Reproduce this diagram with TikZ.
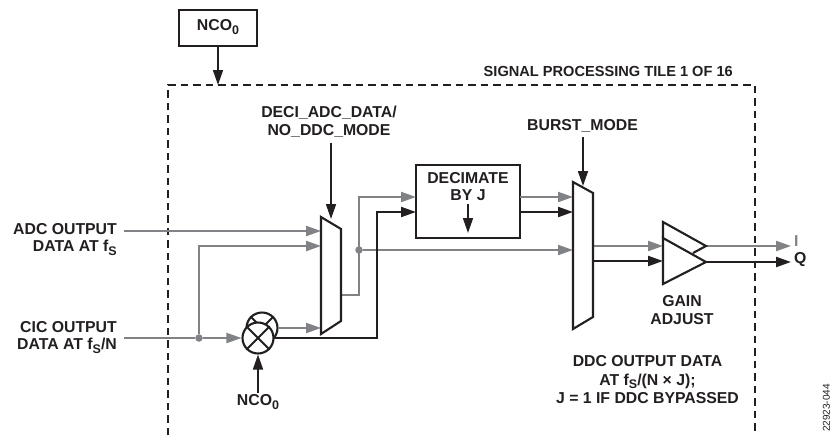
\documentclass[tikz,border=0pt]{standalone}
\usepackage{fontspec}
\setmainfont{Liberation Sans}
\usetikzlibrary{arrows.meta}
\definecolor{ink}{HTML}{231F20}
\definecolor{gry}{HTML}{808285}
\newcommand{\subt}[1]{\raisebox{-3.5pt}{\fontsize{12.5}{13}\selectfont #1}}
\tikzset{
  lbl/.style={font=\bfseries\fontsize{15.8}{17.5}\selectfont,text=ink,inner sep=0pt,align=center},
  lblr/.style={lbl,align=right},
  lbls/.style={lbl,font=\bfseries\fontsize{14.6}{18}\selectfont},
  lbld/.style={lbl,font=\bfseries\fontsize{15.8}{18.5}\selectfont},
  blk/.style={draw=ink,line width=2.1pt,line join=miter},
  blockbox/.style={draw=ink,line width=2.1pt,fill=white,inner sep=0pt},
  sigk/.style={draw=ink,line width=2.1pt,-{Triangle[length=15pt,width=10pt]}},
  sigg/.style={draw=gry,line width=2.1pt,-{Triangle[length=15pt,width=10pt]}},
  siggn/.style={draw=gry,line width=2.1pt},
  ctl/.style={draw=ink,line width=1.7pt,-{Triangle[length=15pt,width=10pt]}},
  bound/.style={draw=ink,line width=1.5pt,dash pattern=on 7.5pt off 5pt},
  junc/.style={circle,fill=gry,minimum size=7.5pt,inner sep=0pt},
  ring/.style={circle,draw=ink,line width=2.1pt,fill=white,inner sep=0pt}
}
\begin{document}
\begin{tikzpicture}[x=1pt,y=-1pt]
\useasboundingbox (0,0) rectangle (833,437);
\fill[white] (0,0) rectangle (833,437);

% boundary
\coordinate (bl) at (168,435);
\coordinate (tl) at (168,85);
\coordinate (tr) at (755,85);
\coordinate (br) at (755,435);
\draw[bound] (bl) -- (tl) -- (tr) -- (br);

% top NCO
\node[blockbox,minimum width=78pt,minimum height=36pt] (nco) at (218,28) {};
\node[lbl] (ncot) at (218,27) {NCO\subt{0}};
\coordinate (ncoin) at (218,85);
\draw[ctl] (nco.south) -- (ncoin);

% labels
\node[lbls,anchor=east] (title) at (733,71.5) {SIGNAL PROCESSING TILE 1 OF 16};
\node[lbl] (decilbl) at (329,121.5) {DECI\_ADC\_DATA/\\NO\_DDC\_MODE};
\node[lbl] (burstlbl) at (582.5,126) {BURST\_MODE};
\node[lblr,anchor=east] (adc) at (117,239.5) {ADC OUTPUT\\DATA AT f\subt{S}};
\node[lblr,anchor=east] (cic) at (117,337.5) {CIC OUTPUT\\DATA AT f\subt{S}/N};
\node[lbl] (ncob) at (258,402) {NCO\subt{0}};
\node[lbl] (gain) at (682,310) {GAIN\\ADJUST};
\node[lbld] (ddc) at (647.5,380) {DDC OUTPUT DATA\\AT f\subt{S}/(N × J);\\J = 1 IF DDC BYPASSED};
\node[text=ink,rotate=90,inner sep=0pt,font=\fontsize{10}{11}\selectfont] (code) at (826.5,408) {22923-044};

% mux 1 ports
\coordinate (m1a) at (321,217);
\coordinate (m1b) at (341,229);
\coordinate (m1c) at (341,321);
\coordinate (m1d) at (321,334);
\coordinate (m1i1) at (321,231);
\coordinate (m1i2) at (321,246);
\coordinate (m1i3) at (321,328);
\coordinate (m1o) at (341,295);
\coordinate (m1s) at (331,219);

% mux 2 ports
\coordinate (m2a) at (573,182);
\coordinate (m2b) at (593,193);
\coordinate (m2c) at (593,317);
\coordinate (m2d) at (573,329);
\coordinate (m2i1) at (573,197);
\coordinate (m2i2) at (573,212);
\coordinate (m2i3) at (573,250);
\coordinate (m2o1) at (593,246);
\coordinate (m2o2) at (593,261);
\coordinate (m2s) at (583,186);

% amplifier ports
\coordinate (a1) at (663,222);
\coordinate (a2) at (706,246);
\coordinate (a3) at (693,253);
\coordinate (a4) at (663,238);
\coordinate (a5) at (706,262);
\coordinate (a6) at (663,284);
\coordinate (ai1) at (663,246);
\coordinate (ai2) at (663,261);
\coordinate (iout) at (791,246);
\coordinate (qout) at (791,262);

% output labels
\node[lbl,anchor=west] (ilbl) at (794,241) {\textcolor{gry}{I}};
\node[lbl,anchor=west] (qlbl) at (794,259.5) {Q};

% decimate
\node[blockbox,minimum width=104pt,minimum height=73pt] (dec) at (468,201.5) {};
\node[lbl] (dect) at (468,186.5) {DECIMATE\\BY J};
\coordinate (dec1) at (416,197);
\coordinate (dec2) at (416,212);
\coordinate (deco1) at (520,197);
\coordinate (deco2) at (520,212);
\coordinate (decs) at (468,204);
\coordinate (dece) at (468,233);
\draw[ctl] (decs) -- (dece);

% mixers
\node[ring,minimum size=31pt] (mixb) at (262,328) {};
\draw[blk] (mixb.45) -- (mixb.225) (mixb.135) -- (mixb.315);
\node[ring,minimum size=31pt] (mixf) at (258,338) {};
\draw[blk] (mixf.45) -- (mixf.225) (mixf.135) -- (mixf.315);

% junctions
\coordinate (ct) at (124,231);
\coordinate (cc) at (124,338);
\coordinate (kbend) at (377,212);
\node[junc] (j1) at (199,338) {};
\node[junc] (j2) at (359,250) {};

% grey signals
\draw[sigg] (ct) -- (m1i1);
\draw[siggn] (cc) -- (j1);
\draw[sigg] (j1) -- (mixf.west);
\draw[sigg] (j1) |- (m1i2);
\draw[sigg] (mixb.east) -- (m1i3);
\draw[sigg] (m1o) -| (j2.center) |- (dec1);
\draw[sigg] (j2) -- (m2i3);
\draw[sigg] (deco1) -- (m2i1);
\draw[sigg] (m2o1) -- (ai1);
\draw[sigg] (a2) -- (iout);
% black signals
\draw[sigk] (mixf.east) -| (kbend) -- (dec2);
\draw[sigk] (deco2) -- (m2i2);
\draw[sigk] (m2o2) -- (ai2);
\draw[sigk] (a5) -- (qout);

% control
\coordinate (decis) at (331,143);
\coordinate (burs) at (583,137);
\coordinate (ncs) at (258,393);
\draw[ctl] (decis) -- (m1s);
\draw[ctl] (burs) -- (m2s);
\draw[ctl] (ncs) -- (mixf.south);

% muxes and amp outlines
\draw[blk] (m1a) -- (m1b) -- (m1c) -- (m1d) -- cycle;
\draw[blk] (m2a) -- (m2b) -- (m2c) -- (m2d) -- cycle;
\draw[blk] (a4) -- (a1) -- (a2) -- (a3);
\draw[blk] (a4) -- (a5) -- (a6) -- cycle;
\end{tikzpicture}
\end{document}
